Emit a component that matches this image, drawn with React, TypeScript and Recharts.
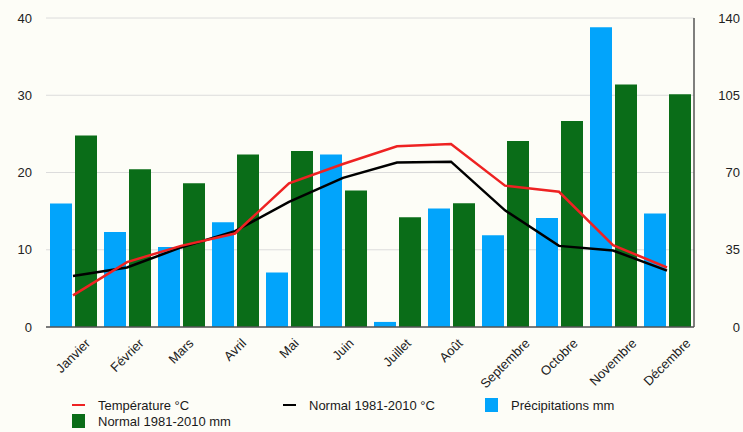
import React from "react"
import { ComposedChart, Bar, Line, XAxis, YAxis, CartesianGrid, Legend } from "recharts"

const months = ["Janvier", "Février", "Mars", "Avril", "Mai", "Juin", "Juillet", "Août", "Septembre", "Octobre", "Novembre", "Décembre"]
const temperature = [4.1, 8.4, 10.5, 12.1, 18.6, 21.1, 23.4, 23.7, 18.3, 17.5, 10.6, 7.7]
const normalTemp = [6.6, 7.7, 10.3, 12.4, 16.2, 19.3, 21.3, 21.4, 15.1, 10.5, 9.9, 7.3]
const precipitation = [56, 43, 36.3, 47.5, 24.7, 78.2, 2.3, 53.7, 41.6, 49.4, 135.8, 51.4]
const normalPrecip = [86.8, 71.5, 65.1, 78.1, 79.7, 61.8, 49.7, 56.1, 84.3, 93.3, 109.9, 105.4]
const leftTicks = [0, 10, 20, 30, 40]
const rightTicks = [0, 35, 70, 105, 140]

const data = months.map((m, i) => ({
  month: m,
  temp: temperature[i],
  normTemp: normalTemp[i],
  precip: precipitation[i],
  normPrecip: normalPrecip[i],
}))

const FONT = "'Liberation Sans', Arial, sans-serif"
const RED = "#ee2222"
const BLACK = "#000000"
const BLUE = "#02a4fb"
const GREEN = "#0a6d18"

const legendItems = [
  { label: "Température °C", color: RED, kind: "line" },
  { label: "Normal 1981-2010 °C", color: BLACK, kind: "line" },
  { label: "Précipitations mm", color: BLUE, kind: "square" },
  { label: "Normal 1981-2010 mm", color: GREEN, kind: "square" },
]

let measureCtx: CanvasRenderingContext2D | null = null
function textWidth(s: string) {
  if (!measureCtx) {
    measureCtx = document.createElement("canvas").getContext("2d")
    if (measureCtx) measureCtx.font = "13px 'Liberation Sans'"
  }
  return measureCtx ? measureCtx.measureText(s).width : s.length * 7
}

// rotated labels: bounding box centred on the tick, top just under the axis
function MonthTick({ x, y, payload }: any) {
  const w = textWidth(payload.value)
  const cy = y + 2 + (w + 11) * 0.3536
  return (
    <text
      x={x}
      y={cy}
      textAnchor="middle"
      dominantBaseline="central"
      transform={`rotate(-45 ${x} ${cy})`}
      fontSize={13}
      fill="#222"
      fontFamily={FONT}
    >
      {payload.value}
    </text>
  )
}

function RightTick({ x, y, payload }: any) {
  return (
    <text x={x + 38} y={y} textAnchor="end" dominantBaseline="central" fontSize={13} fill="#222" fontFamily={FONT}>
      {payload.value}
    </text>
  )
}

function LegendBox() {
  const cols = [72, 283, 485]
  return (
    <div style={{ position: "relative", height: 36, fontFamily: FONT, fontSize: 13, color: "#1a1a1a" }}>
      {legendItems.map((it, i) => {
        const left = cols[i % 3]
        const top = 1 + Math.floor(i / 3) * 16
        return (
          <div key={it.label} style={{ position: "absolute", left, top, height: 16, display: "flex", alignItems: "center", whiteSpace: "nowrap" }}>
            {it.kind === "line" ? (
              <span style={{ display: "inline-block", width: 13, height: 2.5, background: it.color, marginRight: 13 }} />
            ) : (
              <span style={{ display: "inline-block", width: 13, height: 14, background: it.color, marginRight: 13 }} />
            )}
            {it.label}
          </div>
        )
      })}
    </div>
  )
}

export default function App() {
  return (
    <div style={{ width: 743, height: 432, background: "#fdfdf7" }}>
      <style>{"body{margin:0}"}</style>
      <ComposedChart
        width={743}
        height={432}
        data={data}
        margin={{ top: 18, right: 0, bottom: 0, left: 0 }}
        barCategoryGap={4}
        barGap={3}
      >
        <CartesianGrid yAxisId="left" vertical={false} stroke="#dcdcdc" strokeWidth={1} />
        <XAxis
          dataKey="month"
          interval={0}
          height={69}
          tick={<MonthTick />}
          tickLine={false}
          axisLine={{ stroke: "#555", strokeWidth: 1.5 }}
        />
        <YAxis
          yAxisId="left"
          domain={[0, 40]}
          ticks={leftTicks}
          width={46}
          axisLine={false}
          tickLine={false}
          tickMargin={8}
          tick={{ fontSize: 13, fill: "#222", fontFamily: FONT }}
        />
        <YAxis
          yAxisId="right"
          orientation="right"
          domain={[0, 140]}
          ticks={rightTicks}
          width={49}
          axisLine={{ stroke: "#555", strokeWidth: 1.5 }}
          tickLine={false}
          tick={<RightTick />}
        />
        <Legend verticalAlign="bottom" align="left" content={<LegendBox />} wrapperStyle={{ left: 0, width: 743 }} />
        <Bar yAxisId="right" dataKey="precip" name="Précipitations mm" fill={BLUE} isAnimationActive={false} />
        <Bar yAxisId="right" dataKey="normPrecip" name="Normal 1981-2010 mm" fill={GREEN} isAnimationActive={false} />
        <Line yAxisId="left" type="linear" dataKey="normTemp" name="Normal 1981-2010 °C" stroke={BLACK} strokeWidth={2.5} dot={false} isAnimationActive={false} />
        <Line yAxisId="left" type="linear" dataKey="temp" name="Température °C" stroke={RED} strokeWidth={2.5} dot={false} isAnimationActive={false} />
      </ComposedChart>
    </div>
  )
}
